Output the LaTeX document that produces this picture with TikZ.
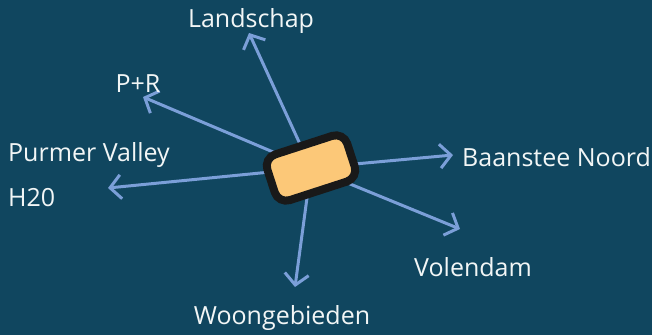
\documentclass[tikz,border=0pt]{standalone}
\usepackage{fontspec}
\setmainfont{Open Sans}
\usetikzlibrary{arrows.meta}
\definecolor{bgc}{HTML}{10465F}
\definecolor{arrc}{HTML}{7B9FD8}
\definecolor{boxc}{HTML}{FCC878}
\definecolor{txtc}{HTML}{F2F6F6}
\tikzset{
  lbl/.style={text=txtc, font=\fontsize{25}{27}\selectfont, inner sep=0pt},
  ray/.style={draw=arrc, line width=3pt, -{Straight Barb[length=11pt,width=24pt,line width=3pt]}},
  hub/.style={draw=black!90, fill=boxc, line width=8pt, rounded corners=12pt, minimum width=84pt, minimum height=48pt, rotate=18}
}
\begin{document}
\begin{tikzpicture}[x=1pt,y=-1pt]
\fill[bgc] (0,0) rectangle (652,335);
\useasboundingbox (0,0) rectangle (652,335);
\coordinate (c) at (311,168);
\coordinate (tL) at (249,33);
\coordinate (tP) at (143,97);
\coordinate (tH) at (108,188);
\coordinate (tB) at (453,155);
\coordinate (tV) at (460,229);
\coordinate (tW) at (295,287);
\draw[ray] (c) -- (tL);
\draw[ray] (c) -- (tP);
\draw[ray] (c) -- (tH);
\draw[ray] (c) -- (tB);
\draw[ray] (c) -- (tV);
\draw[ray] (c) -- (tW);
\node[hub] (box) at (c) {};
\node[lbl, anchor=base] (landschap) at (251,27) {Landschap};
\node[lbl, anchor=base] (pr) at (138,92) {P+R};
\node[lbl, anchor=base west] (purmer) at (8,161) {Purmer Valley};
\node[lbl, anchor=base west] (h20) at (8,206) {H20};
\node[lbl, anchor=base west] (baanstee) at (462,166) {Baanstee Noord};
\node[lbl, anchor=base west] (volendam) at (414,276) {Volendam};
\node[lbl, anchor=base] (woon) at (282,324) {Woongebieden};
\end{tikzpicture}
\end{document}
